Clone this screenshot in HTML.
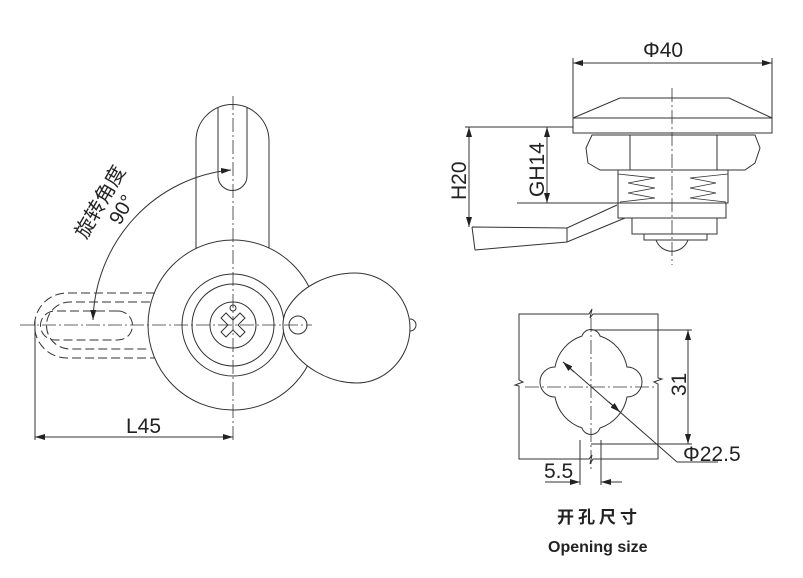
<!DOCTYPE html>
<html><head><meta charset="utf-8"><style>
html,body{margin:0;padding:0;background:#fff;width:803px;height:578px;overflow:hidden}
svg{display:block}
text{font-family:"Liberation Sans","Noto Sans CJK SC",sans-serif;fill:#222}
</style></head><body>
<svg width="803" height="578" viewBox="0 0 803 578" xmlns="http://www.w3.org/2000/svg">
<defs>
<marker id="a" viewBox="0 0 10 6" refX="10" refY="3" markerWidth="10" markerHeight="6" orient="auto-start-reverse" markerUnits="userSpaceOnUse"><path d="M0,0 L10,3 L0,6 z" fill="#222"/></marker>
</defs>
<g fill="none" stroke="#333" stroke-width="1">
<path d="M196,250 L196,141 A36.5,36.5 0 0 1 269,141 L269,250"/>
<path d="M218,108 L218,176 A14.5,14.5 0 0 0 247,176 L247,108"/>
<circle cx="233" cy="325" r="85" fill="#fff"/>
<circle cx="233" cy="325" r="51"/>
<circle cx="233" cy="325" r="41"/>
<circle cx="233" cy="325" r="23"/>
<circle cx="233" cy="308" r="3"/>
<path d="M233,318 L240,311 L245,316 L238,323 L245,330 L240,335 L233,328 L226,335 L221,330 L228,323 L221,316 L226,311 Z" transform="translate(0,2)"/>
<g stroke-dasharray="9,4">
<path d="M155,293 L67,293 A32.5,32.5 0 0 0 67,358 L155,358"/>
<path d="M150,302 L70,302 A23.5,23.5 0 0 0 70,349 L150,349"/>
<path d="M118,311 L55,311 A14.5,14.5 0 0 0 55,340 L118,340 A14.5,14.5 0 0 0 118,311"/>
</g>
<path d="M286,311 C300,285 330,273 355,273 C385,273 410,298 410,328 C410,358 385,383 357,383 C330,383 300,368 286,340 C282,330 282,320 286,311 Z" fill="#fff"/>
<circle cx="298" cy="325" r="9"/>
<path d="M410,319 A6,6 0 0 1 410,331"/>
<g stroke-dasharray="14,3,2,3" stroke-width="0.8">
<line x1="233" y1="96" x2="233" y2="440"/>
<line x1="20" y1="325" x2="312" y2="325"/>
</g>
<line x1="35" y1="320" x2="35" y2="440"/>
<line x1="35" y1="437" x2="233" y2="437" marker-start="url(#a)" marker-end="url(#a)"/>
<path d="M231,170 A152,155 0 0 0 93,320" marker-start="url(#a)" marker-end="url(#a)"/>

<line x1="573" y1="58" x2="573" y2="133"/>
<line x1="772" y1="58" x2="772" y2="133"/>
<line x1="573" y1="63" x2="772" y2="63" marker-start="url(#a)" marker-end="url(#a)"/>
<path d="M573,118 L620,98 L729,98 L772,118 Z"/>
<rect x="573" y="118" width="199" height="15"/>
<path d="M592,135 L755,135 L760,148 L755,163 L745,170 L600,170 L588,163 L586,148 Z"/>
<line x1="630" y1="135" x2="630" y2="170"/>
<line x1="717" y1="135" x2="717" y2="170"/>
<rect x="618" y="170" width="110" height="33"/>
<path d="M618,174 L655,178 L628,183 L655,188 L628,193 L655,198 L620,202 M728,174 L690,178 L716,183 L690,188 L716,193 L690,198 L726,202" stroke-width="0.8"/>
<rect x="618" y="203" width="108" height="15"/>
<rect x="632" y="218" width="85" height="16"/>
<rect x="644" y="234" width="63" height="6"/>
<path d="M656,240 A17,17 0 0 0 688,240"/>
<path d="M472,227 L567,228 L617,205 M475,250 L567,242 L625,218 M472,227 L475,250 M567,228 L567,242"/>
<line x1="672" y1="88" x2="672" y2="265" stroke-dasharray="14,3,2,3" stroke-width="0.8"/>
<line x1="465" y1="127" x2="573" y2="127"/>
<line x1="469" y1="127" x2="469" y2="227" marker-start="url(#a)" marker-end="url(#a)"/>
<line x1="517" y1="203" x2="618" y2="203"/>
<line x1="547" y1="127" x2="547" y2="203" marker-start="url(#a)" marker-end="url(#a)"/>

<path d="M519,314 L589,314 L592,309 L590,318 L593,314 L658,314 L658,378 L662,379 L654,382 L658,384 L658,459 L593,459 L590,464 L592,455 L589,459 L519,459 L519,386 L515,385 L523,382 L519,380 Z"/>
<path d="M600,336 A9.5,9.5 0 0 0 582,336 A40,40 0 0 0 555,367 A9.5,9.5 0 0 0 555,397 A40,40 0 0 0 582,428 A9.5,9.5 0 0 0 600,428 A40,40 0 0 0 627,397 A9.5,9.5 0 0 0 627,367 A40,40 0 0 0 600,336 Z" fill="#fff"/>
<g stroke-dasharray="14,3,2,3" stroke-width="0.8">
<line x1="591" y1="318" x2="591" y2="470"/>
<line x1="525" y1="387" x2="655" y2="387"/>
</g>
<line x1="591" y1="330" x2="692" y2="330"/>
<line x1="591" y1="444" x2="692" y2="444"/>
<line x1="688" y1="330" x2="688" y2="444" marker-start="url(#a)" marker-end="url(#a)"/>
<line x1="563" y1="362" x2="677" y2="462"/>
<line x1="563" y1="362" x2="574" y2="372" marker-start="url(#a)"/>
<line x1="609" y1="402" x2="620" y2="412" marker-end="url(#a)"/>
<line x1="677" y1="462" x2="718" y2="462"/>
<line x1="580" y1="440" x2="580" y2="485"/>
<line x1="601" y1="440" x2="601" y2="485"/>
<line x1="545" y1="482" x2="580" y2="482" marker-end="url(#a)"/>
<line x1="622" y1="482" x2="601" y2="482" marker-end="url(#a)"/>
</g>
<g font-size="21">
<text x="126" y="433">L45</text>
<text x="643" y="57">Φ40</text>
<text x="683" y="461">Φ22.5</text>
<text x="544" y="478">5.5</text>
<text transform="translate(466,200) rotate(-90)">H20</text>
<text transform="translate(544,197) rotate(-90)">GH14</text>
<text transform="translate(686,396) rotate(-90)">31</text>
<text transform="translate(120,226) rotate(-60)" font-size="20">90°</text>
<text transform="translate(86,240) rotate(-60)" font-size="20">旋转角度</text>
</g>
<text x="557" y="523" font-size="17" font-weight="bold" letter-spacing="4">开孔尺寸</text>
<text x="548" y="552" font-size="16" font-weight="bold">Opening size</text>
</svg>
</body></html>
